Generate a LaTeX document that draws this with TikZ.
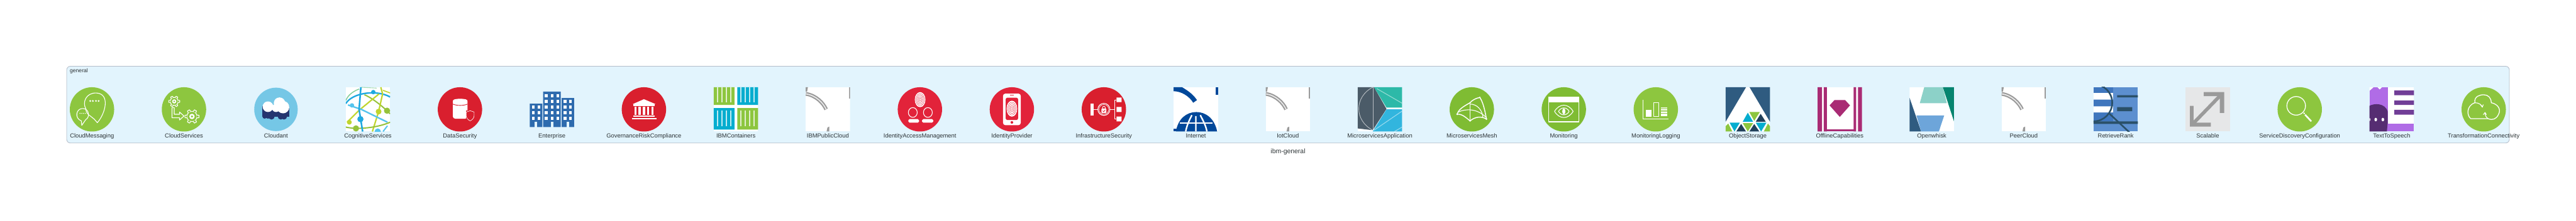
\documentclass[tikz,border=0pt]{standalone}
\usepackage{fontspec}
\setmainfont{Liberation Sans}
\definecolor{panelfill}{HTML}{E2F4FD}
\definecolor{paneledge}{HTML}{B4BDC9}
\definecolor{labeltext}{HTML}{2D3436}
\definecolor{leaf}{HTML}{8DC63F}
\definecolor{leafdark}{HTML}{7FBC33}
\definecolor{alert}{HTML}{D91F2E}
\definecolor{alertlight}{HTML}{E2233A}
\definecolor{sky}{HTML}{75C7E6}
\definecolor{navy}{HTML}{25356F}
\definecolor{steel}{HTML}{2E6BAE}
\definecolor{aqua}{HTML}{05ADCF}
\definecolor{cloudgrey}{HTML}{9A9A9A}
\definecolor{globeblue}{HTML}{00489A}
\definecolor{slate}{HTML}{4B5B68}
\definecolor{teal}{HTML}{2DB9A8}
\definecolor{cyan2}{HTML}{32B5DE}
\definecolor{deepblue}{HTML}{2F5B80}
\definecolor{magent}{HTML}{A92B74}
\definecolor{mint}{HTML}{8CD1C8}
\definecolor{pine}{HTML}{06846F}
\definecolor{softblue}{HTML}{6DA5DA}
\definecolor{rankblue}{HTML}{5C8FCF}
\definecolor{rankmid}{HTML}{3F76BD}
\definecolor{rankdark}{HTML}{2A5068}
\definecolor{paleash}{HTML}{E6E7E8}
\definecolor{violet1}{HTML}{B06CE6}
\definecolor{violet2}{HTML}{713E97}
\definecolor{violet3}{HTML}{562D72}
\definecolor{netblue}{HTML}{1FA9E0}
\definecolor{netsky}{HTML}{55C4EE}
\definecolor{netlime}{HTML}{C0D52E}
\definecolor{netgreen}{HTML}{96C23A}
\definecolor{netleaf}{HTML}{4CB86C}
\tikzset{
	panel/.style={draw=paneledge,fill=panelfill,line width=0.45pt,rounded corners=3.2pt,minimum width=74.35cm,minimum height=2.34cm,inner sep=0pt},
	textlabel/.style={font=\fontsize{5.12}{7}\selectfont,text=labeltext,inner sep=0pt},
	iconslot/.style={shift={({2.8+2.8*#1},3.385)},x=0.0135cm,y=0.0135cm},
	iconline/.style={draw=white,line width=0.6pt,line join=round},
}
\newcommand{\cogwheel}[4]{
	\begin{scope}[shift={(#1,#2)}]
		\draw[iconline] (0,0) circle ({0.72*#3});
		\foreach \a in {0,60,...,300}
			\draw[iconline,fill=#4] (\a-16:0.72*#3) -- (\a-10:#3) -- (\a+10:#3) -- (\a+16:0.72*#3);
		\fill[white] (0,0) circle ({0.38*#3});
		\fill[#4] (0,0) circle ({0.16*#3});
	\end{scope}
}
\newcommand{\fingerprint}[5]{
	\fill[white] (#1,#2) ellipse ({#3} and {#4});
	\foreach \k in {0.8,0.6,0.4,0.2}
		\draw[#5,line width=0.22pt] (#1,#2) ellipse ({\k*#3} and {\k*#4});
}
\newcommand{\cloudcrop}{
	\fill[white] (-50,-50) rectangle (50,50);
	\draw[cloudgrey,line width=3.2pt] (-50,35) .. controls (-27,32) and (-10,14) .. (-4,0);
	\draw[white!80!cloudgrey,line width=0.9pt] (-50,35) .. controls (-27,32) and (-10,14) .. (-4,0);
	\fill[cloudgrey] (-50,50) -- (-45,50) -- (-47,40) -- (-50,40) -- cycle;
	\fill[cloudgrey] (47.5,50) rectangle (50,25);
	\fill[cloudgrey] (-3,-50) -- (-1,-41) -- (3,-39) -- (3,-50) -- cycle;
}
\begin{document}
\begin{tikzpicture}
	\useasboundingbox (0,0) rectangle (78.41,6.72);
	\node[panel] (panel) at (39.205,3.53) {};
	\node[textlabel,font=\fontsize{4.69}{7}\selectfont,anchor=base west] (paneltitle) at (2.12,4.51) {general};
	\node[textlabel,font=\fontsize{5.69}{7}\selectfont,anchor=base] (pagetitle) at (39.205,2.04) {ibm-general};
	\foreach \i/\name in {0/CloudMessaging,1/CloudServices,2/Cloudant,3/CognitiveServices,4/DataSecurity,5/Enterprise,6/GovernanceRiskCompliance,7/IBMContainers,8/IBMPublicCloud,9/IdentityAccessManagement,10/IdentityProvider,11/InfrastructureSecurity,12/Internet,13/IotCloud,14/MicroservicesApplication,15/MicroservicesMesh,16/Monitoring,17/MonitoringLogging,18/ObjectStorage,19/OfflineCapabilities,20/Openwhisk,21/PeerCloud,22/RetrieveRank,23/Scalable,24/ServiceDiscoveryConfiguration,25/TextToSpeech,26/TransformationConnectivity}
		\node[textlabel,anchor=base] (\name) at ({2.8+2.8*\i},2.515) {\name};
	% CloudMessaging
	\begin{scope}[iconslot=0]
		\fill[leaf] (0,0) circle (50);
		\draw[iconline] (5,-22) -- (12,-30) .. controls (30,-10) and (42,35) .. (10,37) .. controls (-14,38) and (-22,15) .. (-14,2) .. controls (-14,-6) and (-9,-12) .. (-5,-14) -- (5,-22);
		\draw[iconline] (-23,-36) -- (-24,-26) .. controls (-40,-20) and (-36,2) .. (-21,2) .. controls (-6,2) and (-4,-18) .. (-14,-23) -- cycle;
		\foreach \x in {-4,2,9,15} \fill[white] (\x,19) circle (2.2);
		\foreach \x in {-27,-23,-19,-15} \fill[white] (\x,-9) circle (1.2);
	\end{scope}
	% CloudServices
	\begin{scope}[iconslot=1]
		\fill[leaf] (0,0) circle (50);
		\cogwheel{-22}{18}{12.5}{leaf}
		\cogwheel{18}{-16}{16}{leaf}
		\draw[iconline] (-27,4) -- (-27,-19) -- (-10,-19) -- (-10,-24) -- (0,-15) -- (-10,-6) -- (-10,-11) -- (-22,-11) -- (-22,4) -- cycle;
	\end{scope}
	% Cloudant
	\begin{scope}[iconslot=2]
		\fill[sky] (0,0) circle (49);
		\fill[navy] (-30.5,8) rectangle (30.5,-16);
		\fill[navy] (-18,-16) circle (5) (-10,-16) circle (7) (11,-16) circle (7) (18,-16) circle (7) (-25.5,-16) circle (5);
		\fill[white] (8,14) circle (13) (-18,6) circle (12) (16,5) circle (14) (0,3) circle (9);
	\end{scope}
	% CognitiveServices
	\begin{scope}[iconslot=3]
		\fill[white] (-50,-50) rectangle (50,50);
		\clip (-50,-50) rectangle (50,50);
		\draw[netleaf!70,line width=0.8pt] (-50,20) .. controls (-45,32) and (-35,40) .. (-20,46);
		\draw[netleaf!50,line width=0.6pt] (-15,50) -- (20,48);
		\draw[netlime,line width=0.9pt] (34,43) -- (50,37);
		\draw[netgreen,line width=1.1pt] (-8,33) .. controls (5,28) and (28,12) .. (50,-10);
		\draw[netblue,line width=1.3pt] (-50,13) .. controls (-35,38) and (20,45) .. (50,28);
		\draw[netlime,line width=1.2pt] (29,50) -- (33,35) -- (24,-5) -- (10,-50);
		\draw[netlime,line width=1.2pt] (-47,-29) -- (-20,-2) -- (25,35);
		\draw[netsky,line width=1.3pt] (-45,10) -- (-15,0) -- (44,-29);
		\draw[netgreen,line width=1.1pt] (-50,-40) .. controls (-25,-46) and (20,-42) .. (50,-29);
		\draw[netblue,line width=1.4pt] (-16,50) -- (-20,0) -- (-12,-50);
		\draw[netsky,line width=1.1pt] (34,-50) -- (44,-37);
		\fill[netsky] (22,-50) circle (7);
		\fill[netblue] (12,39) circle (5) (-17,-22) circle (7);
		\fill[netsky] (-36,9) circle (5);
		\fill[netlime] (-42,-29) circle (5.5) (24,-5) circle (6.5);
		\fill[netgreen] (43,-3) circle (7) (-27,-43) circle (7);
	\end{scope}
	% DataSecurity
	\begin{scope}[iconslot=4]
		\fill[alert] (0,0) circle (50);
		\fill[white,rounded corners=2pt] (-16,23) rectangle (17,-21);
		\fill[white] (0.5,19) ellipse (16.5 and 5);
		\draw[alert,line width=0.5pt] (-16,12) .. controls (-8,8) and (9,8) .. (17,12);
		\fill[alert] (14,-2) rectangle (40,-26);
		\draw[white,line width=0.35pt] (14,-6) -- (23,-3) -- (32,-6) -- (32,-14) .. controls (32,-20) and (27,-24) .. (23,-26) .. controls (19,-24) and (14,-20) .. (14,-14) -- cycle;
	\end{scope}
	% Enterprise
	\begin{scope}[iconslot=5]
		\fill[steel] (-50,-40) rectangle (-21.5,13) (-20,-40) rectangle (20,40) (22,-40) rectangle (50,25.5);
		\foreach \y in {31,18,5,-7,-20} \foreach \x in {-13,0,13} \fill[white] (\x-3,\y-3.7) rectangle (\x+3,\y+3.7);
		\foreach \y in {18,5,-7,-20} \foreach \x in {29.5,42} \fill[white] (\x-3,\y-3.7) rectangle (\x+3,\y+3.7);
		\foreach \y in {5,-7,-20} \foreach \x in {-42,-29} \fill[white] (\x-3,\y-3.7) rectangle (\x+3,\y+3.7);
		\foreach \x in {-36,0,36} \fill[panelfill] (\x-3,-40.5) rectangle (\x+3,-28);
	\end{scope}
	% GovernanceRiskCompliance
	\begin{scope}[iconslot=6]
		\fill[alert] (0,0) circle (50);
		\fill[white] (0,23) -- (26,12) -- (-25,12) -- cycle;
		\fill[white] (-24,8) rectangle (24,11);
		\foreach \x in {-19,-9.5,0,9.5,19} \fill[white] (\x-2.5,-12) rectangle (\x+2.5,6);
		\fill[white] (-24,-17) rectangle (24,-14);
		\fill[white] (-27,-23) rectangle (28,-19);
	\end{scope}
	% IBMContainers
	\begin{scope}[iconslot=7]
		\fill[white] (-50,-50) rectangle (50,50);
		\fill[leaf] (-50,10) rectangle (-3.4,50) (3.3,-45.5) rectangle (50,3);
		\fill[aqua] (3.3,10) rectangle (50,50) (-50,-45.5) rectangle (-3.4,3);
		\foreach \x in {-42,-32,-22,-12,11.5,21.5,31.5,41.5} \draw[white,opacity=0.75,line width=1.1pt] (\x,50) -- (\x,16.5) (\x,-3) -- (\x,-38);
	\end{scope}
	% IBMPublicCloud
	\begin{scope}[iconslot=8]
		\clip (-50,-50) rectangle (50,50);
		\cloudcrop
	\end{scope}
	% IdentityAccessManagement
	\begin{scope}[iconslot=9]
		\fill[alertlight] (0,0) circle (50);
		\fingerprint{0.5}{22}{12}{17}{alertlight}
		\draw[iconline] (-16,-7) ellipse (10 and 11) (18,-7) ellipse (10 and 11);
		\fill[white,rounded corners=1pt] (-26,-30) rectangle (-2,-22) (5,-30) rectangle (30,-22);
	\end{scope}
	% IdentityProvider
	\begin{scope}[iconslot=10]
		\fill[alertlight] (0,0) circle (50);
		\fill[white,rounded corners=2pt] (-20,-35.6) rectangle (20,35.6);
		\fill[alertlight,rounded corners=1.5pt] (-14,-24) rectangle (14,26.4);
		\fingerprint{0}{1.6}{12}{18}{alertlight}
		\fill[alertlight] (0,-29.4) circle (3);
		\draw[alertlight,line width=0.6pt] (-4,32) -- (4,32);
	\end{scope}
	% InfrastructureSecurity
	\begin{scope}[iconslot=11]
		\fill[alert] (0,0) circle (50);
		\fill[white] (-30,-14) rectangle (-23,13.3);
		\draw[iconline] (-23,0) -- (24,0);
		\draw[iconline,fill=alert] (0,0) circle (13.6);
		\draw[iconline,line width=0.35pt] (0,0) circle (11);
		\fill[white,rounded corners=0.5pt] (-5.5,-8) rectangle (5.5,2);
		\draw[iconline,line width=0.5pt] (-3,2) -- (-3,4) arc (180:0:3) -- (3,2);
		\draw[alert,line width=0.4pt] (-2.5,-3) -- (-0.5,-5.5) -- (3,-1);
		\draw[iconline,line width=0.4pt] (28.7,21.5) -- (24,21.5) -- (24,-22) -- (28.7,-22);
		\fill[white] (28.7,16.5) rectangle (40,26.7) (28.7,-5.8) rectangle (40,5.3) (28.7,-27) rectangle (40,-16);
	\end{scope}
	% Internet
	\begin{scope}[iconslot=12]
		\clip (-50,-50) rectangle (50,50);
		\fill[white] (-50,-50) rectangle (50,50);
		\fill[globeblue] (-50,50) -- (-31,50) .. controls (-14,40) and (-5,32) .. (2.5,21) -- (-6,15) .. controls (-15,30) and (-33,41) .. (-50,41) -- cycle;
		\fill[globeblue] (44,33) rectangle (50,50);
		\fill[globeblue] (-45,-50) .. controls (-40,-20) and (-20,-6) .. (1,-6) .. controls (22,-6) and (42,-20) .. (48,-50) -- cycle;
		\fill[globeblue] (-50,-50) rectangle (-38,-43);
		\draw[white,line width=1.5pt] (-36,-31) -- (38,-31);
		\draw[white,line width=1.3pt] (-9,-13) .. controls (-15,-25) and (-20,-35) .. (-23,-50) (0,-15) -- (0,-50) (10,-13) .. controls (16,-25) and (22,-35) .. (25,-50);
	\end{scope}
	% IotCloud
	\begin{scope}[iconslot=13]
		\clip (-50,-50) rectangle (50,50);
		\cloudcrop
	\end{scope}
	% MicroservicesApplication
	\begin{scope}[iconslot=14]
		\clip (-50,-50) rectangle (50,50);
		\fill[white] (-50,-50) rectangle (50,50);
		\fill[slate] (-50,50) -- (-13,50) -- (15,1) -- (-16,-47) -- (-50,-43) -- cycle;
		\fill[teal] (-13,50) -- (50,50) -- (50,4) -- (15,4) -- cycle;
		\fill[cyan2] (15,0) -- (50,0) -- (50,-50) -- (-16,-50) -- cycle;
		\draw[white,opacity=0.6,line width=0.5pt] (-16,50) .. controls (-58,28) and (-58,-25) .. (-16,-47);
		\draw[white,opacity=0.6,line width=0.5pt] (-15,50) -- (-15,-47);
		\draw[white,opacity=0.5,line width=0.6pt] (-7,47) -- (50,14) (-13,-47) -- (50,-4) (33,-50) -- (50,-40);
	\end{scope}
	% MicroservicesMesh
	\begin{scope}[iconslot=15]
		\fill[leafdark] (0,0) circle (50);
		\draw[iconline,line width=0.8pt] (18,27) .. controls (8,25) and (0,20) .. (-4,15) .. controls (-20,6) and (-30,0) .. (-33,-11) .. controls (-22,-10) and (-14,-18) .. (-4,-26) .. controls (8,-16) and (22,-15) .. (33,-22) .. controls (30,-5) and (26,15) .. (18,27);
		\draw[iconline] (-4,15) -- (-4,-26);
		\draw[iconline] (-30,-6) .. controls (-15,2) and (12,2) .. (31,-17);
		\draw[iconline] (-4,12) .. controls (12,12) and (24,-2) .. (25,-18);
		\fill[white] (18,27) circle (1.8) (-33,-11) circle (2.2) (-4,-26) circle (2) (33,-22) circle (2) (-4,15) circle (1.5);
	\end{scope}
	% Monitoring
	\begin{scope}[iconslot=16]
		\fill[leafdark] (0,0) circle (50);
		\draw[iconline] (-34,-28) rectangle (34,28);
		\fill[white] (-34,16) rectangle (34,28);
		\draw[white,line width=0.7pt] (-34,-27) -- (34,-27);
		\draw[iconline] (-21,-4.5) .. controls (-10,14) and (10,14) .. (21,-4.5) .. controls (10,-23) and (-10,-23) .. cycle;
		\draw[iconline] (-12,-4.5) .. controls (-6,6) and (6,6) .. (12,-4.5) .. controls (6,-15) and (-6,-15) .. cycle;
		\fill[white] (0,-4.5) ellipse (3.5 and 7);
	\end{scope}
	% MonitoringLogging
	\begin{scope}[iconslot=17]
		\fill[leaf] (0,0) circle (50);
		\draw[iconline,line width=0.35pt] (-29,21) -- (-29,-22);
		\fill[white] (-29,-23) rectangle (29,-21);
		\fill[white] (-23,-16) rectangle (-10,-1);
		\draw[iconline] (-5,-16) rectangle (7,15);
		\foreach \y in {5,1.4,-2.2,-5.8,-9.4,-13} \fill[white] (12,\y-2.4) rectangle (26,\y);
	\end{scope}
	% ObjectStorage
	\begin{scope}[iconslot=18]
		\clip (-50,-50) rectangle (50,50);
		\fill[white] (-50,-50) rectangle (50,50);
		\fill[deepblue] (-50,50) -- (-4,50) -- (-50,-28) -- cycle (4,50) -- (50,50) -- (50,-28) -- cycle;
		\fill[aqua] (0,-7.5) -- (-11.5,-28) -- (12,-28) -- cycle (-41,-30) -- (-18,-30) -- (-30,-50) -- cycle (18,-30) -- (42,-30) -- (30,-50) -- cycle;
		\fill[leaf] (3.5,-6) -- (27,-6) -- (14.5,-26) -- cycle (-11.5,-31) -- (12,-31) -- (0,-50) -- cycle;
		\fill[leaf] (-44,-32) -- (-35,-50) -- (-50,-50) -- (-50,-38) -- cycle (45.5,-32) -- (36,-50) -- (50,-50) -- (50,-38) -- cycle;
		\fill[deepblue!70!black] (29,-10) -- (18,-28) -- (40.5,-28) -- cycle (-15,-33) -- (-26,-50) -- (-4,-50) -- cycle (14.5,-33) -- (3.5,-50) -- (26,-50) -- cycle;
	\end{scope}
	% OfflineCapabilities
	\begin{scope}[iconslot=19]
		\clip (-50,-50) rectangle (50,50);
		\fill[white] (-50,-50) rectangle (50,50);
		\fill[magent] (-50,-50) rectangle (-40,50) (-36,-50) rectangle (-29,50) (31,-50) rectangle (37,50) (41,-50) rectangle (50,50);
		\fill[magent] (-36,-50) rectangle (37,-45.5);
		\fill[magent] (-12,21) -- (12,21) -- (23,9) -- (0,-17) -- (-23,9) -- cycle;
	\end{scope}
	% Openwhisk
	\begin{scope}[iconslot=20]
		\clip (-50,-50) rectangle (50,50);
		\fill[white] (-50,-50) rectangle (50,50);
		\fill[mint] (-17,50) -- (25,50) -- (34,14) -- (-27,14) -- cycle;
		\fill[pine] (25,50) -- (50,50) -- (50,-27) -- cycle;
		\fill[deepblue] (-50,26) -- (-24,-50) -- (-50,-50) -- cycle;
		\fill[softblue] (-34.6,-13.6) -- (28,-13.6) -- (16,-50) -- (-24,-50) -- cycle;
	\end{scope}
	% PeerCloud
	\begin{scope}[iconslot=21]
		\clip (-50,-50) rectangle (50,50);
		\cloudcrop
	\end{scope}
	% RetrieveRank
	\begin{scope}[iconslot=22]
		\clip (-50,-50) rectangle (50,50);
		\fill[rankblue] (-50,-50) rectangle (50,50);
		\fill[rankmid] (-50,-27) rectangle (-6,50);
		\fill[white] (-50,22) rectangle (-6,37) (-50,-7) rectangle (-6,7);
		\fill[rankdark] (3,27) rectangle (50,32) (3,-4) rectangle (37,5) (-50,-33) rectangle (50,-27);
		\draw[rankdark,line width=1.4pt] (-50,15) circle (42);
		\draw[rankdark,line width=1.4pt] (-14,-10) -- (31,-52);
	\end{scope}
	% Scalable
	\begin{scope}[iconslot=23]
		\fill[paleash] (-50,-50) rectangle (50,50);
		\fill[cloudgrey] (-9,39) -- (37,39) -- (37,-8) -- (27,-8) -- (27,30) -- (-9,30) -- cycle;
		\fill[cloudgrey] (-40,8) -- (-32,8) -- (-32,-30) -- (7,-30) -- (7,-39) -- (-40,-39) -- cycle;
		\draw[cloudgrey,line width=3pt] (29,32) -- (-33,-32);
	\end{scope}
	% ServiceDiscoveryConfiguration
	\begin{scope}[iconslot=24]
		\fill[leaf] (0,0) circle (50);
		\draw[iconline,line width=0.7pt] (-8,8) circle (21);
		\fill[white] (10,-9) circle (2);
		\draw[white,line width=1.4pt] (12,-12) -- (26,-27);
	\end{scope}
	% TextToSpeech
	\begin{scope}[iconslot=25]
		\clip (-50,-50) rectangle (50,50);
		\fill[violet1] (-50,-50) rectangle (50,50);
		\fill[white] (-9,-33) rectangle (50,50);
		\fill[violet2] (6,32) rectangle (50,42.5) (6,10) rectangle (50,20) (6,-12) rectangle (50,-1);
		\fill[violet3] (-50,8) .. controls (-40,14) and (-15,15) .. (-9,-5) -- (-9,-30) -- (-11,-50) -- (-50,-50) -- cycle;
		\foreach \x in {-51,-36,-20} \fill[white] (\x,-23) ellipse (3 and 4);
		\fill[white] (-50,50) -- (-41,50) -- (-50,42) -- cycle (-32,50) -- (-22,50) -- (-27,45) -- cycle;
	\end{scope}
	% TransformationConnectivity
	\begin{scope}[iconslot=26]
		\fill[leaf] (0,0) circle (50);
		\draw[iconline,line width=0.7pt] (-29,-21) .. controls (-38,-15) and (-40,8) .. (-20,15) .. controls (-22,30) and (-8,33) .. (0,33) .. controls (10,33) and (17,26) .. (17,15) .. controls (32,12) and (40,0) .. (33,-12) .. controls (28,-22) and (20,-25) .. (10,-21) -- cycle;
		\draw[iconline] (-20,15) .. controls (-10,15) and (-5,10) .. (-3,5);
		\draw[iconline] (-7,10) -- (-3,5) -- (-1,11);
		\draw[iconline] (10,-21) .. controls (5,-18) and (3,-13) .. (3,-7);
		\draw[iconline] (-1,-12) -- (3,-7) -- (6,-12);
	\end{scope}
\end{tikzpicture}
\end{document}
